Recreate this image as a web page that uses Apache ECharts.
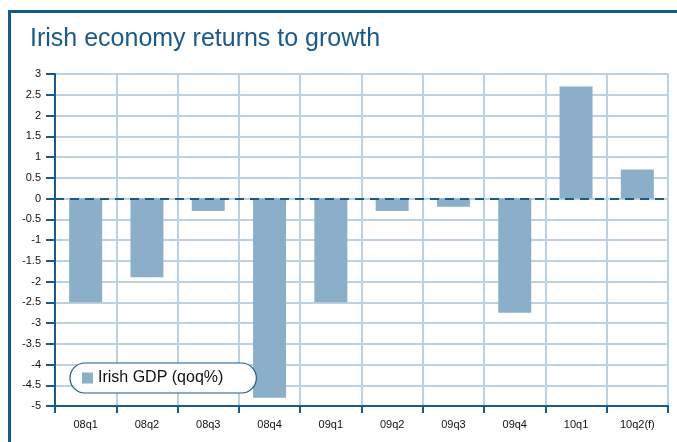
<!DOCTYPE html>
<html>
<head>
<meta charset="utf-8">
<script src="https://cdn.jsdelivr.net/npm/echarts@6/dist/echarts.min.js"></script>
<style>
  html, body { margin: 0; padding: 0; background: #ffffff; }
  #chart { width: 677px; height: 442px; }
</style>
</head>
<body>
<div id="chart"></div>
<script>
// Quarterly GDP change, quarter on quarter (%)
const quarters = ['08q1', '08q2', '08q3', '08q4', '09q1', '09q2', '09q3', '09q4', '10q1', '10q2(f)'];
const gdpQoq = [-2.5, -1.9, -0.3, -4.8, -2.5, -0.3, -0.2, -2.75, 2.7, 0.7];
const seriesName = 'Irish GDP (qoq%)';
const chartTitle = 'Irish economy returns to growth';

const navy = '#1a5a88';
const gridBlue = '#bcd1e2';
const barBlue = '#8cafc9';
const fontFamily = '"Liberation Sans", Arial, Helvetica, sans-serif';

const chart = echarts.init(document.getElementById('chart'), null, { renderer: 'canvas' });

chart.setOption({
  animation: false,
  backgroundColor: '#ffffff',
  textStyle: { fontFamily: fontFamily },
  title: {
    text: chartTitle,
    left: 25,
    top: 22,
    textStyle: { color: navy, fontSize: 25, fontWeight: 'normal', fontFamily: fontFamily }
  },
  graphic: [
    // frame: top rule and left rule
    { type: 'line', shape: { x1: 8, y1: 11.5, x2: 677, y2: 11.5 }, style: { stroke: navy, lineWidth: 3 }, z: 10 },
    { type: 'line', shape: { x1: 9.5, y1: 10, x2: 9.5, y2: 442 }, style: { stroke: navy, lineWidth: 3 }, z: 10 }
  ],
  legend: {
    data: [seriesName],
    left: 70,
    top: 363,
    icon: 'rect',
    itemWidth: 11,
    itemHeight: 11,
    itemGap: 7,
    padding: [7, 33, 7, 12],
    backgroundColor: '#ffffff',
    borderColor: navy,
    borderWidth: 1.2,
    borderRadius: 15,
    textStyle: { color: '#111', fontSize: 16, fontFamily: fontFamily, lineHeight: 16 },
    z: 20
  },
  grid: {
    left: 55,
    right: 9,
    top: 74,
    bottom: 36,
    show: true,
    borderColor: gridBlue,
    borderWidth: 2,
    backgroundColor: 'transparent'
  },
  xAxis: {
    type: 'category',
    data: quarters,
    boundaryGap: true,
    axisLine: { show: true, onZero: false, lineStyle: { color: navy, width: 2 } },
    axisTick: { show: true, inside: false, length: 7, interval: 0, lineStyle: { color: navy, width: 2 } },
    axisLabel: { color: '#111', fontSize: 11, margin: 13, interval: 0 },
    splitLine: { show: true, interval: 0, lineStyle: { color: gridBlue, width: 2 } }
  },
  yAxis: {
    type: 'value',
    min: -5,
    max: 3,
    interval: 0.5,
    axisLine: { show: true, lineStyle: { color: navy, width: 2 } },
    axisTick: { show: true, length: 9, lineStyle: { color: navy, width: 2 } },
    axisLabel: { color: '#111', fontSize: 11, margin: 14 },
    splitLine: { show: true, lineStyle: { color: gridBlue, width: 2 } }
  },
  series: [{
    name: seriesName,
    type: 'bar',
    data: gdpQoq,
    barWidth: 33,
    itemStyle: { color: barBlue },
    markLine: {
      silent: true,
      symbol: ['none', 'none'],
      label: { show: false },
      lineStyle: { color: navy, width: 2, type: [9, 6] },
      data: [{ yAxis: 0 }],
      z: 5
    }
  }]
});
</script>
</body>
</html>
